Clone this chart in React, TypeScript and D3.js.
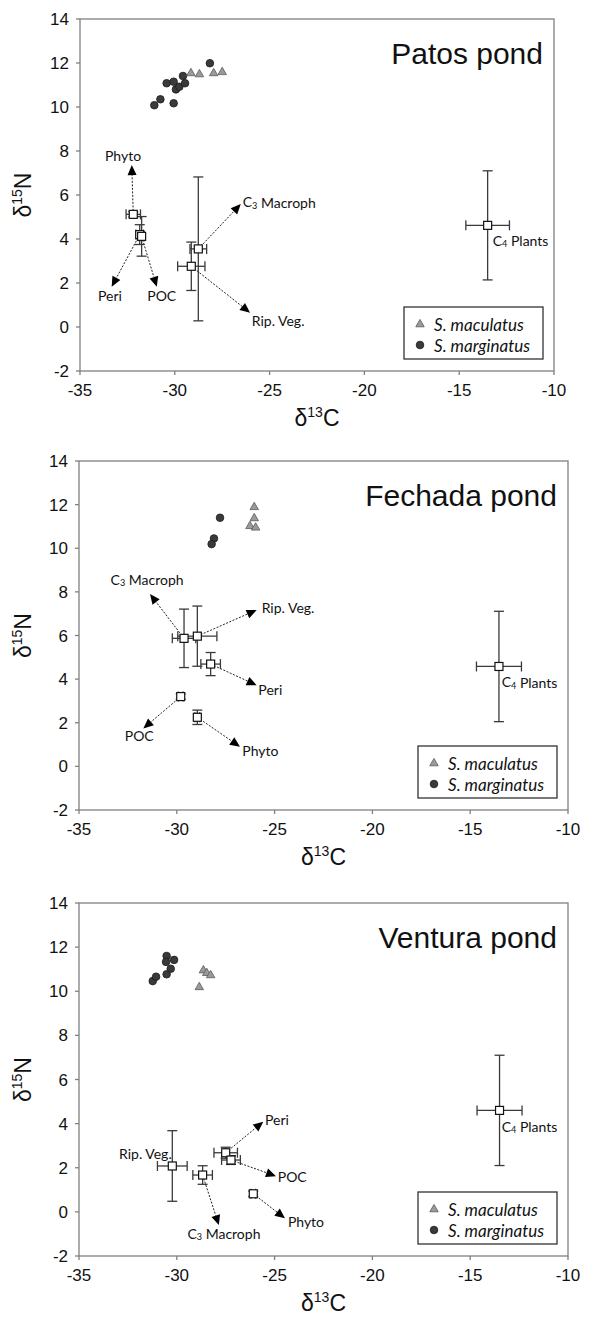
import React from 'react';
import * as d3 from 'd3';

const xTicks = [-35, -30, -25, -20, -15, -10];
const yTicks = [-2, 0, 2, 4, 6, 8, 10, 12, 14];
const legendNames = ['S. maculatus', 'S. marginatus'];

// ---------- Patos pond ----------
const patosMaculatus = [[-29.15, 11.55], [-28.7, 11.5], [-27.95, 11.55], [-27.5, 11.6]];
const patosMarginatus = [[-31.08, 10.08], [-30.76, 10.35], [-30.43, 11.08], [-30.06, 11.15], [-30.06, 10.17], [-29.94, 10.8], [-29.76, 10.92], [-29.57, 11.41], [-29.46, 11.08], [-28.15, 11.99]];
const patosSources = [
  { name: 'Phyto', x: -32.19, y: 5.12, xErr: 0.38, yErr: 0.12 },
  { name: 'Peri', x: -31.85, y: 4.2, xErr: 0.2, yErr: 0.45 },
  { name: 'POC', x: -31.75, y: 4.12, xErr: 0.15, yErr: 0.9 },
  { name: 'C3 Macroph', x: -28.76, y: 3.55, xErr: 0.44, yErr: 3.27 },
  { name: 'Rip. Veg.', x: -29.13, y: 2.76, xErr: 0.72, yErr: 1.1 },
  { name: 'C4 Plants', x: -13.5, y: 4.62, xErr: 1.15, yErr: 2.48 },
];
const patosLabels = [
  { src: 'Phyto', tip: [-32.27, 7.36], at: [-32.73, 7.8], anchor: 'middle' },
  { src: 'Peri', tip: [-33.33, 1.83], at: [-33.42, 1.45], anchor: 'middle' },
  { src: 'POC', tip: [-30.95, 1.83], at: [-30.69, 1.42], anchor: 'middle' },
  { src: 'C3 Macroph', tip: [-26.52, 5.59], at: [-26.42, 5.7], anchor: 'start' },
  { src: 'Rip. Veg.', tip: [-26.03, 0.65], at: [-25.94, 0.29], anchor: 'start' },
  { src: 'C4 Plants', tip: null, at: [-13.23, 3.95], anchor: 'start' },
];

// ---------- Fechada pond ----------
const fechadaMaculatus = [[-26.04, 11.9], [-26.04, 11.39], [-26.26, 11.03], [-25.97, 10.96]];
const fechadaMarginatus = [[-27.79, 11.4], [-28.1, 10.45], [-28.22, 10.19]];
const fechadaSources = [
  { name: 'C3 Macroph', x: -29.63, y: 5.87, xErr: 0.6, yErr: 1.34 },
  { name: 'Rip. Veg.', x: -28.95, y: 5.97, xErr: 1.0, yErr: 1.38 },
  { name: 'Peri', x: -28.27, y: 4.69, xErr: 0.5, yErr: 0.53 },
  { name: 'POC', x: -29.8, y: 3.2, xErr: 0.12, yErr: 0.12 },
  { name: 'Phyto', x: -28.95, y: 2.25, xErr: 0.12, yErr: 0.33 },
  { name: 'C4 Plants', x: -13.53, y: 4.58, xErr: 1.15, yErr: 2.53 },
];
const fechadaLabels = [
  { src: 'C3 Macroph', tip: [-31.37, 7.9], at: [-31.52, 8.58], anchor: 'middle' },
  { src: 'Rip. Veg.', tip: [-25.92, 7.17], at: [-25.66, 7.29], anchor: 'start' },
  { src: 'Peri', tip: [-25.92, 3.72], at: [-25.83, 3.54], anchor: 'start' },
  { src: 'POC', tip: [-31.71, 1.74], at: [-31.92, 1.43], anchor: 'middle' },
  { src: 'Phyto', tip: [-26.77, 0.9], at: [-26.65, 0.74], anchor: 'start' },
  { src: 'C4 Plants', tip: null, at: [-13.39, 3.88], anchor: 'start' },
];

// ---------- Ventura pond ----------
const venturaMaculatus = [[-28.85, 10.2], [-28.64, 10.96], [-28.47, 10.84], [-28.27, 10.74]];
const venturaMarginatus = [[-31.23, 10.46], [-31.06, 10.66], [-30.52, 11.6], [-30.55, 11.33], [-30.14, 11.42], [-30.31, 11.02], [-30.52, 10.77]];
const venturaSources = [
  { name: 'Rip. Veg.', x: -30.23, y: 2.08, xErr: 0.76, yErr: 1.6 },
  { name: 'C3 Macroph', x: -28.68, y: 1.67, xErr: 0.5, yErr: 0.42 },
  { name: 'Peri', x: -27.5, y: 2.68, xErr: 0.6, yErr: 0.25 },
  { name: 'POC', x: -27.23, y: 2.35, xErr: 0.48, yErr: 0.2 },
  { name: 'Phyto', x: -26.09, y: 0.82, xErr: 0.12, yErr: 0.12 },
  { name: 'C4 Plants', x: -13.5, y: 4.6, xErr: 1.15, yErr: 2.5 },
];
const venturaLabels = [
  { src: 'Rip. Veg.', tip: null, at: [-30.26, 2.65], anchor: 'end' },
  { src: 'Peri', tip: [-25.58, 4.09], at: [-25.49, 4.19], anchor: 'start' },
  { src: 'POC', tip: [-24.93, 1.62], at: [-24.84, 1.59], anchor: 'start' },
  { src: 'Phyto', tip: [-24.47, -0.29], at: [-24.32, -0.45], anchor: 'start' },
  { src: 'C3 Macroph', tip: [-27.85, -0.6], at: [-27.59, -0.96], anchor: 'middle' },
  { src: 'C4 Plants', tip: null, at: [-13.39, 3.88], anchor: 'start' },
];

const panels = [
  { title: 'Patos pond', mac: patosMaculatus, mar: patosMarginatus, src: patosSources, lab: patosLabels, box: { l: 80, r: 554, t: 19, b: 371 } },
  { title: 'Fechada pond', mac: fechadaMaculatus, mar: fechadaMarginatus, src: fechadaSources, lab: fechadaLabels, box: { l: 79, r: 568, t: 461, b: 810 } },
  { title: 'Ventura pond', mac: venturaMaculatus, mar: venturaMarginatus, src: venturaSources, lab: venturaLabels, box: { l: 79, r: 568, t: 903, b: 1256 } },
];

const AXIS = '#808080';
const SANS = '"Liberation Sans", Arial, sans-serif';
const LABEL_FONT = 'Lato, "Open Sans", sans-serif';

function LabelText({ text, x, y, anchor, size }) {
  const m = /^C([34])(.*)$/.exec(text);
  if (m) {
    return (
      <text x={x} y={y} textAnchor={anchor} dominantBaseline="central" fontFamily={LABEL_FONT} fontSize={size} fill="#111">
        C<tspan fontSize={size * 0.65} dy={3}>{m[1]}</tspan><tspan dy={-3}>{m[2]}</tspan>
      </text>
    );
  }
  return (
    <text x={x} y={y} textAnchor={anchor} dominantBaseline="central" fontFamily={LABEL_FONT} fontSize={size} fill="#111">{text}</text>
  );
}

function triPath(cx, cy, s) {
  const h = s * 0.87;
  return `M${cx},${cy - h * 0.62}L${cx + s / 2},${cy + h * 0.38}L${cx - s / 2},${cy + h * 0.38}Z`;
}

function Panel({ p }) {
  const { l, r, t, b } = p.box;
  const x = d3.scaleLinear().domain([-35, -10]).range([l, r]);
  const y = d3.scaleLinear().domain([-2, 14]).range([b, t]);
  const srcByName = Object.fromEntries(p.src.map((s) => [s.name, s]));
  const cap = 5;
  const legW = 139, legH = 52;
  const legX = r - 11 - legW, legY = b - 12 - legH;
  return (
    <g>
      <rect x={l} y={t} width={r - l} height={b - t} fill="none" stroke={AXIS} strokeWidth={1.3} />
      {yTicks.map((v) => (
        <g key={'y' + v}>
          <line x1={l - 4} x2={l} y1={y(v)} y2={y(v)} stroke={AXIS} strokeWidth={1.3} />
          <text x={l - 11} y={y(v)} dy="0.36em" textAnchor="end" fontFamily={SANS} fontSize={17} fill="#111">{v}</text>
        </g>
      ))}
      {xTicks.map((v) => (
        <g key={'x' + v}>
          <line x1={x(v)} x2={x(v)} y1={b} y2={b + 4} stroke={AXIS} strokeWidth={1.3} />
          <text x={x(v)} y={b + 25} textAnchor="middle" fontFamily={SANS} fontSize={17} fill="#111">{v}</text>
        </g>
      ))}
      <text x={(l + r) / 2} y={b + 55} textAnchor="middle" fontFamily={SANS} fontSize={23} fill="#111">
        δ<tspan fontSize={14} dy={-9}>13</tspan><tspan dy={9}>C</tspan>
      </text>
      <text transform={`translate(${31},${(t + b) / 2}) rotate(-90)`} textAnchor="middle" fontFamily={SANS} fontSize={23} fill="#111">
        δ<tspan fontSize={14} dy={-9}>15</tspan><tspan dy={9}>N</tspan>
      </text>
      <text x={r - 11} y={t + 45} textAnchor="end" fontFamily={SANS} fontSize={30} fill="#111">{p.title}</text>
      {p.lab.filter((a) => a.tip).map((a) => {
        const s = srcByName[a.src];
        const x0 = x(s.x), y0 = y(s.y);
        const tx = x(a.tip[0]), ty = y(a.tip[1]);
        const ang = Math.atan2(ty - y0, tx - x0);
        const len = 10, hw = 4.5;
        const bx = tx - len * Math.cos(ang), by = ty - len * Math.sin(ang);
        const px = -Math.sin(ang) * hw, py = Math.cos(ang) * hw;
        return (
          <g key={'ar' + a.src}>
            <line x1={x0} y1={y0} x2={bx} y2={by} stroke="#222" strokeWidth={1} strokeDasharray="2,1.5" />
            <path d={`M${tx},${ty}L${bx + px},${by + py}L${bx - px},${by - py}Z`} fill="#000" />
          </g>
        );
      })}
      {p.src.map((s) => {
        const cx = x(s.x), cy = y(s.y);
        const x1 = x(s.x - s.xErr), x2 = x(s.x + s.xErr);
        const y1 = y(s.y - s.yErr), y2 = y(s.y + s.yErr);
        return (
          <g key={'eb' + s.name} stroke="#3a3a3a" strokeWidth={1.3} fill="none">
            <line x1={x1} x2={x2} y1={cy} y2={cy} />
            <line x1={x1} x2={x1} y1={cy - cap} y2={cy + cap} />
            <line x1={x2} x2={x2} y1={cy - cap} y2={cy + cap} />
            <line x1={cx} x2={cx} y1={y1} y2={y2} />
            <line x1={cx - cap} x2={cx + cap} y1={y1} y2={y1} />
            <line x1={cx - cap} x2={cx + cap} y1={y2} y2={y2} />
          </g>
        );
      })}
      {p.src.map((s) => (
        <rect key={'sq' + s.name} x={x(s.x) - 4} y={y(s.y) - 4} width={8} height={8} fill="#fff" stroke="#111" strokeWidth={1.2} />
      ))}
      {p.lab.map((a) => (
        <LabelText key={'lb' + a.src} text={a.src} x={x(a.at[0])} y={y(a.at[1])} anchor={a.anchor} size={14} />
      ))}
      {p.mar.map((d, i) => (
        <circle key={'m' + i} cx={x(d[0])} cy={y(d[1])} r={3.8} fill="#3a3a3a" stroke="#1a1a1a" strokeWidth={0.8} />
      ))}
      {p.mac.map((d, i) => (
        <path key={'t' + i} d={triPath(x(d[0]), y(d[1]), 8.5)} fill="#9a9a9a" stroke="#5a5a5a" strokeWidth={0.8} />
      ))}
      <rect x={legX} y={legY} width={legW} height={legH} fill="#fff" stroke="#333" strokeWidth={1.3} />
      <path d={triPath(legX + 16, legY + 17, 8.5)} fill="#9a9a9a" stroke="#5a5a5a" strokeWidth={0.8} />
      <circle cx={legX + 16} cy={legY + 38} r={3.8} fill="#3a3a3a" stroke="#1a1a1a" strokeWidth={0.8} />
      {legendNames.map((n, i) => (
        <text key={n} x={legX + 30} y={legY + 17 + i * 21} dominantBaseline="central" fontFamily={LABEL_FONT} fontStyle="italic" fontSize={17} fill="#111">{n}</text>
      ))}
    </g>
  );
}

export default function App() {
  return (
    <svg width={592} height={1317} style={{ position: 'absolute', left: 0, top: 0, background: '#fff' }}>
      <rect x={0} y={0} width={592} height={1317} fill="#fff" />
      {panels.map((p) => (
        <Panel key={p.title} p={p} />
      ))}
    </svg>
  );
}
